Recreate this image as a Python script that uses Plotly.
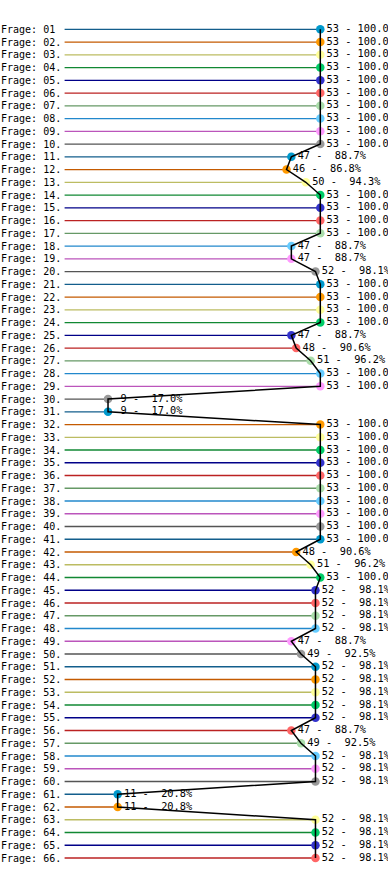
import plotly.graph_objects as go

labels = ["Frage: 01"] + [f"Frage: {i:02d}." for i in range(2, 67)]
counts = [53, 53, 53, 53, 53, 53, 53, 53, 53, 53,
          47, 46, 50, 53, 53, 53, 53, 47, 47, 52,
          53, 53, 53, 53, 47, 48, 51, 53, 53, 9,
          9, 53, 53, 53, 53, 53, 53, 53, 53, 53,
          53, 48, 51, 53, 52, 52, 52, 52, 47, 49,
          52, 52, 52, 52, 52, 47, 49, 52, 52, 52,
          11, 11, 52, 52, 52, 52]
total = 53

line_colors = ["#135e8c", "#c45a00", "#bcbc62", "#118833", "#000088",
               "#bb2222", "#669966", "#2288cc", "#bb55bb", "#555555"]
marker_colors = ["#0099cc", "#ff9900", "#ffff99", "#00cc66", "#3333cc",
                 "#ff6666", "#aaddaa", "#66ccff", "#ff99ff", "#999999"]

n = len(counts)
rows = list(range(1, n + 1))
NB = "\u00a0"
texts = []
for c in counts:
    pct = c / total * 100
    s = f"{c:2d} - {pct:5.1f}%"
    texts.append(s.replace(" ", NB))

font = dict(family="DejaVu Sans Mono", size=10, color="black")
vfont = dict(family="DejaVu Sans Mono", size=10.3, color="black")

fig = go.Figure()

# coloured row lines
for k in range(len(line_colors)):
    xs, ys = [], []
    for i in range(k, n, len(line_colors)):
        xs += [0, counts[i], None]
        ys += [rows[i], rows[i], None]
    fig.add_trace(go.Scatter(x=xs, y=ys, mode="lines",
                             line=dict(color=line_colors[k], width=1.3),
                             hoverinfo="skip", showlegend=False))

# markers and value labels
fig.add_trace(go.Scatter(
    x=counts, y=rows, mode="markers+text",
    marker=dict(size=8.5, color=[marker_colors[i % 10] for i in range(n)]),
    text=texts, textposition="middle right", textfont=vfont,
    showlegend=False, cliponaxis=False))

# black connecting line
fig.add_trace(go.Scatter(x=counts, y=rows, mode="lines",
                         line=dict(color="black", width=1.5),
                         hoverinfo="skip", showlegend=False))

for r, lab in zip(rows, labels):
    fig.add_annotation(x=0, xref="paper", y=r, yref="y", text=lab.replace(" ", NB),
                       xanchor="left", yanchor="middle", showarrow=False,
                       font=font, borderpad=0)

px_per_unit = (320.3 - 64.6) / 53
x0_px = 64.6
row_px = (858.0 - 29.3) / 65
fig.update_xaxes(range=[-x0_px / px_per_unit, (388 - x0_px) / px_per_unit],
                 visible=False, fixedrange=True)
fig.update_yaxes(range=[1 + (870 - 29.3) / row_px, 1 - 29.3 / row_px],
                 visible=False, fixedrange=True)
fig.update_layout(width=388, height=870, margin=dict(l=0, r=0, t=0, b=0),
                  plot_bgcolor="white", paper_bgcolor="white", showlegend=False)

fig.write_html("out.html", config={"displayModeBar": False})
